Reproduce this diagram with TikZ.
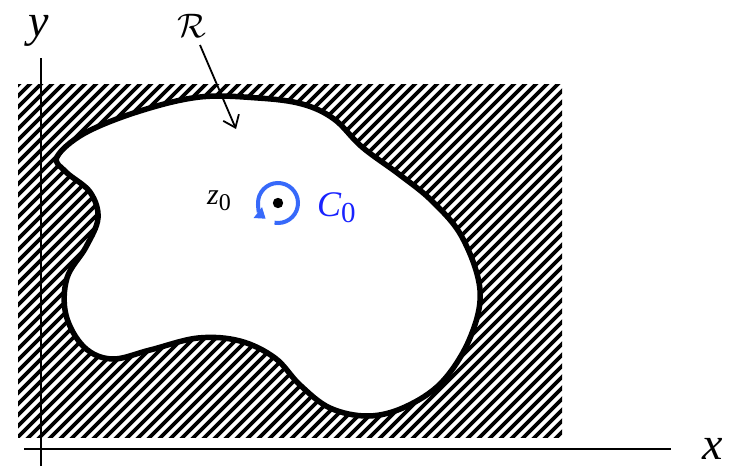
\documentclass[tikz,border=0pt]{standalone}
\usepackage{fontspec}
\setmainfont{Liberation Serif}
\usetikzlibrary{arrows.meta,calc}
\definecolor{cblue}{RGB}{55,105,250}
\definecolor{tblue}{RGB}{25,35,255}
\tikzset{
  axisline/.style={line width=1.8pt},
  outline/.style={line width=5.5pt, fill=white},
  hatchline/.style={line width=3.6pt},
}
\begin{document}
\begin{tikzpicture}[x=1pt,y=-1pt]
\useasboundingbox (0,0) rectangle (732,468);
% hatched rectangle
\begin{scope}
  \clip (18,85) rectangle (562,437);
  \foreach \k in {0,...,86} { \draw[hatchline] (\k*11-370,440) -- ++(370,-370); }
\end{scope}
% region R
\draw[outline] plot[smooth cycle, tension=0.6] coordinates {
(57,157) (85,133) (140,111) (200,97) (258,98) (302,104) (334,119) (362,147)
(400,175) (432,201) (462,237) (480,290) (470,338) (442,382) (405,407) (368,416)
(330,408) (300,385) (275,358) (240,341) (198,338) (150,350) (112,359)
(84,347) (66,315) (67,278) (86,247) (98,218) (90,192) (66,172)};
% axes
\coordinate (ybot) at (41,466);
\coordinate (ytop) at (41,58);
\coordinate (xleft) at (24,449);
\coordinate (xright) at (671,449);
\draw[axisline] (ybot) -- (ytop);
\draw[axisline] (xleft) -- (xright);
\node[anchor=base, inner sep=0pt] (ylab) at (39,37) {\fontsize{46}{46}\selectfont\itshape y};
\node[anchor=base, inner sep=0pt] (xlab) at (713,459) {\fontsize{46}{46}\selectfont\itshape x};
% R label and arrow
\node[inner sep=0pt, scale=3.4] (rlab) at (192,26) {$\mathcal{R}$};
\coordinate (rtail) at (200,45);
\coordinate (rhead) at (236,129);
\draw[line width=1.8pt, -{Straight Barb[length=11pt,width=17pt]}] (rtail) -- (rhead);
% z0 and C0
\coordinate (c) at (278,203);
\fill (c) circle (5.2);
\draw[cblue, line width=4pt, -{Triangle[length=10pt,width=13pt]}] ($(c)+(100:20)$) arc[start angle=100, end angle=-232, radius=20];
\node[anchor=base west, inner sep=0pt] (z0) at (207,205) {\fontsize{30}{30}\selectfont\itshape z\raisebox{-6pt}{\upshape\fontsize{24}{24}\selectfont 0}};
\node[anchor=base west, inner sep=0pt, text=tblue] (c0) at (317,217) {\fontsize{36}{36}\selectfont\itshape C\raisebox{-6pt}{\upshape\fontsize{29}{29}\selectfont 0}};
\end{tikzpicture}
\end{document}
